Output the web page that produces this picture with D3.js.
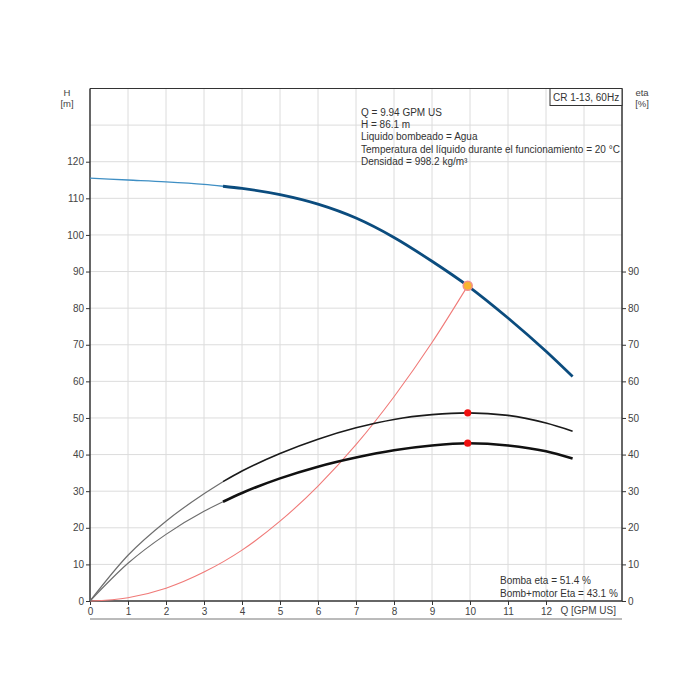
<!DOCTYPE html>
<html><head><meta charset="utf-8">
<script src="https://cdn.jsdelivr.net/npm/d3@7"></script>
<style>body{margin:0;background:#fff;}svg{display:block;font-family:"Liberation Sans",Arial,sans-serif;}</style>
</head><body><svg id="c" width="700" height="700"></svg>
<script>
const qPts = [0,1,2,3,3.5,4,5,6,7,8,9,9.94,11,12,12.7];
const headH = [115.5,115.0,114.5,113.8,113.3,112.7,111.0,108.4,104.6,99.3,92.8,86.1,77.3,68.2,61.3];
const etaPump = [0,12.5,21.8,29.3,32.6,35.5,40.3,44.2,47.3,49.6,50.9,51.4,50.7,48.6,46.4];
const etaPumpMotor = [0,10.3,18.2,24.5,27.1,29.5,33.5,36.7,39.2,41.2,42.5,43.1,42.5,40.9,38.9];
const qSys = [0,1,2,3,4,5,6,7,8,9,9.94];
const hSys = [0,0.9,3.5,7.9,13.9,21.8,31.4,42.7,55.8,70.6,86.1];
const dutyQ = 9.94, dutyH = 86.1, dutyEtaP = 51.4, dutyEtaPM = 43.1;
const splitQ = 3.5;
const xTicks = [0,1,2,3,4,5,6,7,8,9,10,11,12];
const yLeftTicks = [0,10,20,30,40,50,60,70,80,90,100,110,120];
const yRightTicks = [0,10,20,30,40,50,60,70,80,90];
const infoLines = ["Q = 9.94 GPM US","H = 86.1 m","Liquido bombeado = Agua","Temperatura del líquido durante el funcionamiento = 20 °C","Densidad = 998.2 kg/m³"];
const titleText = "CR 1-13, 60Hz";
const etaLines = ["Bomba eta = 51.4 %","Bomb+motor Eta = 43.1 %"];

const svg = d3.select("#c");
const L=90,R=622,T=88.5,B=601;
const x = d3.scaleLinear().domain([0,14]).range([L,R]);
const y = d3.scaleLinear().domain([0,140]).range([B,T]);

// grid
const g = svg.append("g");
g.selectAll(".vg").data(d3.range(1,14)).enter().append("line")
 .attr("x1",d=>x(d)).attr("x2",d=>x(d)).attr("y1",T).attr("y2",B)
 .attr("stroke","#dcdcdc").attr("stroke-width",1);
g.selectAll(".hg").data(d3.range(10,140,10)).enter().append("line")
 .attr("x1",L).attr("x2",R).attr("y1",d=>y(d)).attr("y2",d=>y(d))
 .attr("stroke","#dcdcdc").attr("stroke-width",1);

// frame
svg.append("line").attr("x1",L).attr("x2",R).attr("y1",T).attr("y2",T).attr("stroke","#333").attr("stroke-width",1.2);

// axes
const ax = svg.append("g").attr("transform",`translate(0,${B})`)
 .call(d3.axisBottom(x).tickValues(xTicks).tickSize(4).tickPadding(3).tickFormat(d3.format("d")));
const ayl = svg.append("g").attr("transform",`translate(${L},0)`)
 .call(d3.axisLeft(y).tickValues(yLeftTicks).tickSize(4).tickPadding(2).tickFormat(d3.format("d")));
const ayr = svg.append("g").attr("transform",`translate(${R},0)`)
 .call(d3.axisRight(y).tickValues(yRightTicks).tickSize(4).tickPadding(2).tickFormat(d3.format("d")));
[ax,ayl,ayr].forEach(a=>{
  a.select(".domain").attr("stroke","#333").attr("stroke-width",1.5);
  a.selectAll(".tick line").attr("stroke","#333");
  a.selectAll(".tick text").attr("fill","#444").style("font-size","10px").style("font-family","Liberation Sans, Arial, sans-serif");
});
ax.select(".domain").attr("d",`M${L},0H${R}`);
ayl.select(".domain").attr("d",`M0,${B}V${T}`);
ayr.select(".domain").attr("d",`M0,${B}V${T}`);

// bottom line below labels
svg.append("line").attr("x1",L).attr("x2",R).attr("y1",619).attr("y2",619).attr("stroke","#777").attr("stroke-width",1);

// axis titles
const lab = (t,xx,yy,anchor)=>svg.append("text").attr("x",xx).attr("y",yy).attr("text-anchor",anchor||"middle").attr("fill","#444").style("font-size","9.5px").text(t);
lab("H",67,96); lab("[m]",67,107);
lab("eta",642,96); lab("[%]",642,107);
svg.append("text").attr("x",616).attr("y",614).attr("text-anchor","end").attr("fill","#444").style("font-size","10px").text("Q [GPM US]");

// curves
const pts = (xs,ys)=>xs.map((q,i)=>[q,ys[i]]);
const line = d3.line().x(d=>x(d[0])).y(d=>y(d[1])).curve(d3.curveMonotoneX);
function drawSplit(data,thinColor,thinW,thickColor,thickW){
  const a = data.filter(d=>d[0]<=splitQ), b = data.filter(d=>d[0]>=splitQ);
  svg.append("path").attr("d",line(a)).attr("fill","none").attr("stroke",thinColor).attr("stroke-width",thinW);
  svg.append("path").attr("d",line(b)).attr("fill","none").attr("stroke",thickColor).attr("stroke-width",thickW);
}
svg.append("path").attr("d",line(pts(qSys,hSys))).attr("fill","none").attr("stroke","#f07a78").attr("stroke-width",1.1);
drawSplit(pts(qPts,etaPump),"#6e6e6e",1.2,"#1a1a1a",1.6);
drawSplit(pts(qPts,etaPumpMotor),"#6e6e6e",1.2,"#111",2.6);
drawSplit(pts(qPts,headH),"#3f8fc4",1.3,"#0b4c7e",2.8);

// duty points
svg.selectAll(".rd").data([dutyEtaP,dutyEtaPM]).enter().append("circle")
 .attr("cx",x(dutyQ)).attr("cy",d=>y(d)).attr("r",3.6).attr("fill","#f01010");
svg.append("circle").attr("cx",x(dutyQ)).attr("cy",y(dutyH)).attr("r",4.5)
 .attr("fill","#f8b530").attr("stroke","#f2908a").attr("stroke-width",1.5);

// info text
infoLines.forEach((t,i)=>svg.append("text").attr("x",361).attr("y",116+i*12.2)
 .attr("fill","#333").style("font-size","10px").text(t));
// title box
svg.append("rect").attr("x",550).attr("y",T).attr("width",R-550).attr("height",17)
 .attr("fill","#fff").attr("stroke","#333").attr("stroke-width",1);
svg.append("text").attr("x",553).attr("y",101).attr("fill","#333").style("font-size","10px").text(titleText);
etaLines.forEach((t,i)=>svg.append("text").attr("x",500).attr("y",584+i*13)
 .attr("fill","#333").style("font-size","10px").text(t));
</script></body></html>
